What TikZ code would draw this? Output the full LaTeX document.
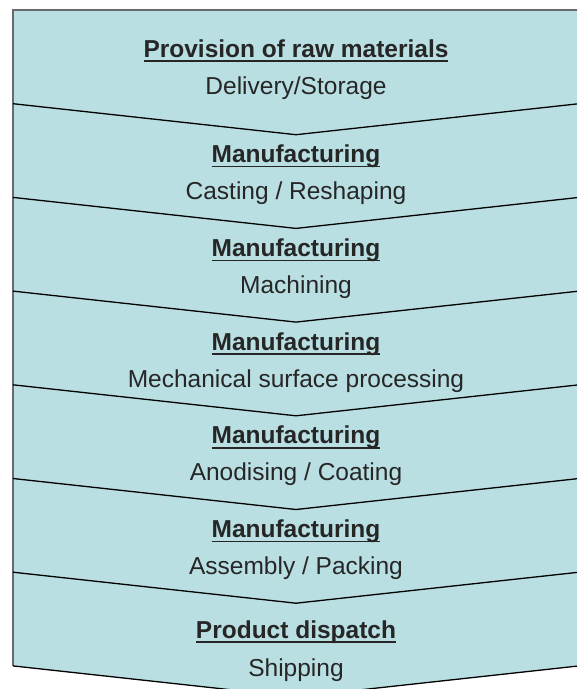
\documentclass[tikz,border=0pt]{standalone}
\usepackage{fontspec}
\setmainfont{Liberation Sans}
\definecolor{stagefill}{RGB}{185,223,226}
\definecolor{framegray}{RGB}{105,105,105}
\newcommand{\hdul}[1]{\setbox0\hbox{#1}\rlap{\rule[-4.7pt]{\wd0}{1.4pt}}\box0}
\tikzset{
  stagehead/.style={anchor=base,font=\fontsize{24.5}{29}\selectfont\bfseries,text=black!85},
  stagetext/.style={anchor=base,font=\fontsize{24.5}{29}\selectfont,text=black!85},
}

\begin{document}
\begin{tikzpicture}[x=1pt,y=-1pt]
\useasboundingbox (0,0) rectangle (577,689);
\clip (0,0) rectangle (577,689);
% stack background
\fill[stagefill] (13,10) -- (579,10) -- (579,666) -- (296,697) -- (13,666) -- cycle;
\draw[framegray,line width=2pt] (13,666) -- (13,10) -- (579,10);
% chevron edges
\foreach \i in {1,...,7}
  \draw[black,line width=1.3pt] (13,{10+93.7*\i}) -- (296,{41+93.7*\i}) -- (579,{10+93.7*\i});

\node[stagehead] (h1) at (296,57) {\hdul{Provision of raw materials}};
\node[stagetext] (t1) at (296,94) {Delivery/Storage};
\foreach \j/\sub in {2/{Casting / Reshaping},3/{Machining},4/{Mechanical surface processing},5/{Anodising / Coating},6/{Assembly / Packing}} {
  \node[stagehead] (h\j) at (296,{10+93.7*(\j-1)+59}) {\hdul{Manufacturing}};
  \node[stagetext] (t\j) at (296,{10+93.7*(\j-1)+96}) {\sub};
}
\node[stagehead] (h7) at (296,638) {\hdul{Product dispatch}};
\node[stagetext] (t7) at (296,676) {Shipping};
\end{tikzpicture}
\end{document}
